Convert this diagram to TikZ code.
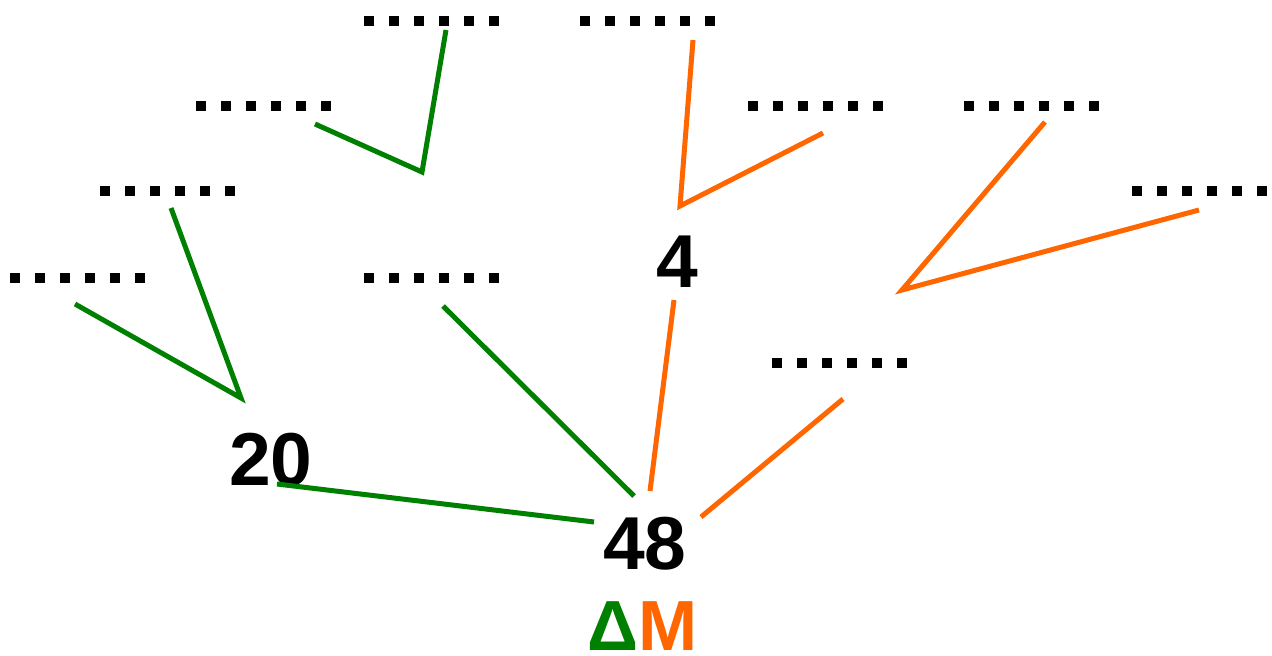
\documentclass[tikz,border=0pt]{standalone}
\usepackage{fontspec}
\setmainfont{Liberation Sans}
\definecolor{dgreen}{HTML}{008000}
\definecolor{dorange}{HTML}{FF6600}
\begin{document}
\begin{tikzpicture}[x=1pt,y=-1pt,
  dotrow/.style={line width=10pt,dash pattern=on 10pt off 15pt,line cap=butt},
  gline/.style={draw=dgreen,line width=5pt,line cap=butt,line join=miter},
  oline/.style={draw=dorange,line width=5pt,line cap=butt,line join=miter},
  num/.style={font=\fontsize{75}{78}\selectfont\bfseries,inner sep=0pt},
  lbl/.style={font=\fontsize{71}{74}\selectfont\bfseries,inner sep=0pt,text depth=0pt,anchor=base}]
\useasboundingbox (0,0) rectangle (1272,656);
% dotted placeholders
\foreach \x/\y [count=\i] in {364/21,580/21,196/106,748/106,964/106,100/191,1132/191,10/278,364/278,772/363}
  \draw[dotrow] (\x,\y) -- ++(135,0) coordinate (d\i);
% numbers
\node[num] (n20) at (271,460) {20};
\node[num] (n48) at (645,544) {48};
\node[num] (n4) at (677,262) {4};
\node[lbl] (dm) at (643,650) {\textcolor{dgreen}{Δ}\textcolor{dorange}{M}};
% green lines
\coordinate (ga1) at (315,124); \coordinate (ga2) at (422,172); \coordinate (ga3) at (446,30);
\draw[gline] (ga1) -- (ga2) -- (ga3);
\coordinate (gb1) at (171,208); \coordinate (gb2) at (241,398); \coordinate (gb3) at (75,304);
\draw[gline] (gb1) -- (gb2) -- (gb3);
\coordinate (gc1) at (443,306); \coordinate (gc2) at (634,496);
\draw[gline] (gc1) -- (gc2);
\coordinate (gd1) at (277,484); \coordinate (gd2) at (594,522);
\draw[gline] (gd1) -- (gd2);
% orange lines
\coordinate (oa1) at (693,40); \coordinate (oa2) at (680,206); \coordinate (oa3) at (823,133);
\draw[oline] (oa1) -- (oa2) -- (oa3);
\coordinate (ob1) at (1045,122); \coordinate (ob2) at (902,290); \coordinate (ob3) at (1199,210);
\draw[oline] (ob1) -- (ob2) -- (ob3);
\coordinate (oc1) at (674,300); \coordinate (oc2) at (650,491);
\draw[oline] (oc1) -- (oc2);
\coordinate (od1) at (843,399); \coordinate (od2) at (701,517);
\draw[oline] (od1) -- (od2);
\end{tikzpicture}
\end{document}
